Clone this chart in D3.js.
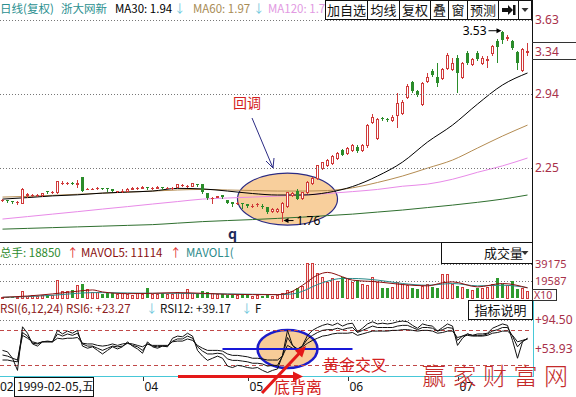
<!DOCTYPE html>
<html><head><meta charset="utf-8">
<script src="https://cdn.jsdelivr.net/npm/d3@7/dist/d3.min.js"></script>
<style>
body{margin:0;background:#fff;}
svg{display:block;font-family:"Noto Sans CJK SC","Noto Sans",sans-serif;}
</style></head><body>
<svg id="c" width="576" height="397"></svg>
<script>
// ---------- DATA ----------
const opens = [1.95,1.95,1.94,1.93,1.92,2.00,2.00,2.00,2.00,2.04,
2.03,2.03,2.11,2.11,2.11,2.10,2.17,2.05,2.05,2.06,
2.06,2.06,2.05,2.04,2.04,2.04,2.05,2.06,2.06,2.07,
2.06,2.06,2.07,2.06,2.06,2.07,2.09,2.08,2.08,2.10,
2.10,2.02,1.97,1.98,2.00,1.95,1.93,1.92,1.92,1.91,
1.90,1.91,1.90,1.89,1.85,1.85,1.84,1.90,2.00,2.04,
1.97,2.03,2.11,2.16,2.25,2.28,2.30,2.34,2.42,2.39,
2.42,2.45,2.42,2.46,2.68,2.53,2.72,2.71,2.70,2.74,
2.76,2.91,3.05,2.97,2.85,3.06,3.15,3.10,3.09,3.18,
3.17,3.28,3.10,3.32,3.22,3.32,3.23,3.26,3.32,3.43,
3.52,3.46,3.43,3.33,3.16,3.33];
const highs = [1.96,1.95,1.94,1.94,2.06,2.02,2.01,2.01,2.02,2.04,
2.04,2.13,2.13,2.12,2.12,2.14,2.17,2.06,2.06,2.07,
2.06,2.06,2.05,2.04,2.05,2.06,2.07,2.07,2.08,2.07,
2.07,2.08,2.07,2.07,2.07,2.10,2.10,2.09,2.11,2.10,
2.10,2.02,1.98,1.99,2.00,1.95,1.93,1.93,1.92,1.91,
1.91,1.92,1.91,1.89,1.88,1.88,1.93,2.03,2.03,2.05,
2.03,2.13,2.17,2.28,2.31,2.33,2.37,2.40,2.43,2.45,
2.47,2.46,2.47,2.66,2.75,2.72,2.73,2.72,2.74,2.95,
2.88,3.03,3.06,2.98,3.05,3.14,3.17,3.23,3.18,3.32,
3.28,3.30,3.24,3.34,3.28,3.34,3.29,3.29,3.40,3.45,
3.53,3.49,3.44,3.34,3.37,3.42];
const lows = [1.94,1.93,1.92,1.91,1.92,1.98,1.99,1.99,1.99,2.02,
2.02,2.02,2.10,2.10,2.10,2.07,2.04,2.05,2.05,2.05,
2.05,2.04,2.04,2.03,2.03,2.04,2.05,2.05,2.06,2.05,
2.05,2.06,2.05,2.06,2.05,2.07,2.08,2.07,2.08,2.08,
2.02,1.96,1.92,1.98,1.97,1.92,1.90,1.91,1.88,1.89,
1.89,1.90,1.88,1.83,1.84,1.84,1.76,1.89,1.99,1.96,
1.96,2.02,2.10,2.15,2.24,2.27,2.29,2.33,2.37,2.38,
2.41,2.40,2.41,2.45,2.67,2.52,2.70,2.69,2.69,2.63,
2.75,2.90,2.96,2.92,2.84,3.05,3.11,3.01,3.08,3.17,
3.16,2.96,3.09,3.22,3.21,3.26,3.22,3.19,3.30,3.24,
3.42,3.44,3.36,3.17,3.15,3.30];
const closes = [1.95,1.94,1.93,1.93,2.05,2.01,2.00,2.00,2.02,2.03,
2.03,2.13,2.11,2.11,2.10,2.11,2.04,2.05,2.05,2.06,
2.05,2.05,2.04,2.04,2.04,2.05,2.06,2.06,2.07,2.06,
2.06,2.07,2.06,2.06,2.06,2.10,2.09,2.08,2.11,2.09,
2.03,1.97,1.97,1.99,1.98,1.92,1.91,1.92,1.91,1.90,
1.90,1.91,1.89,1.84,1.87,1.87,1.92,2.03,2.02,1.96,
2.03,2.12,2.16,2.28,2.31,2.32,2.36,2.39,2.37,2.44,
2.46,2.41,2.46,2.65,2.73,2.71,2.71,2.70,2.73,2.86,
2.87,3.01,2.97,2.93,3.04,3.10,3.12,3.04,3.17,3.30,
3.23,3.14,3.23,3.23,3.27,3.27,3.28,3.27,3.39,3.38,
3.44,3.47,3.37,3.23,3.36,3.34];
const volumes = [1200,1000,1300,1500,7800,2500,3000,2800,3500,3000,
3200,20600,7500,8000,9000,14700,16700,10900,7000,6500,
5000,6000,5500,4500,6000,5000,4000,5500,5000,11600,
5000,4500,6000,5000,4500,6500,5500,10900,6000,5000,
7800,6500,5500,4500,5000,4000,3500,3000,3800,3200,
2800,3000,2500,3500,2600,3000,5500,9000,8000,11000,
14000,40500,40000,28300,24400,18600,22500,19400,24400,23300,
18600,20600,16000,14700,24400,18600,12000,11000,13000,19000,
16500,15000,11000,10000,13500,16000,13000,11500,27200,27200,
16000,14000,13000,10000,9000,12000,11000,12500,16000,23300,
16700,15500,19400,10000,12000,8500];
// moving averages at every 5th session
const maIdx = [0,5,10,15,20,25,30,35,40,45,50,55,60,65,70,75,80,85,90,95,100,105];
const ma30  = [1.96,1.974,1.99,2.00,2.016,2.026,2.035,2.06,2.055,2.035,2.012,1.998,1.998,2.021,2.077,2.175,2.305,2.492,2.65,2.846,3.024,3.136];
const ma60  = [1.979,1.985,1.995,2.005,2.015,2.025,2.035,2.045,2.05,2.045,2.04,2.035,2.035,2.04,2.065,2.115,2.175,2.249,2.324,2.436,2.548,2.65];
const ma120 = [1.774,1.797,1.82,1.843,1.867,1.89,1.914,1.937,1.96,1.97,1.979,1.988,1.998,2.012,2.03,2.05,2.08,2.10,2.145,2.21,2.27,2.343];
const ma250 = [1.68,1.687,1.694,1.701,1.708,1.715,1.722,1.736,1.75,1.76,1.769,1.78,1.792,1.806,1.82,1.839,1.858,1.881,1.904,1.93,1.96,1.998];
const vmaIdx = [0,5,10,15,18,20,25,30,35,40,45,50,55,58,60,63,65,68,70,75,80,85,88,90,95,100,105];
const mavol5  = [800,2300,4700,7800,9300,7000,5000,5400,6200,5400,4300,3900,3900,7800,14700,26400,29500,24400,20600,18600,15500,14000,17500,18600,12800,16700,11600];
const mavol10 = [800,1600,3100,5400,6200,6200,5800,5400,5400,5000,4700,4300,3900,4700,7800,15500,19400,22500,22500,20600,16700,14700,16000,16700,14000,14700,12000];
const rsi6 = [52,50,41,24,85,76,61,58,64,65,
64,80,75,79,76,80,58,55,57,52,
47,52,57,54,57,64,58,54,48,64,
57,55,58,57,69,72,71,76,72,52,
44,38,41,44,41,30,28,31,30,28,
27,28,24,21,24,26,45,80,59,52,
59,73,80,84,87,89,87,90,86,89,
90,78,83,89,92,89,90,89,90,92,
93,92,87,83,89,87,86,79,84,89,
86,59,69,75,73,75,75,76,83,86,
89,87,66,41,64,69];
const rsi12 = [45.5,44,41,38.5,77,72,62,61,64,64,
64,75,72,75,73,76,61,58,58,55,
52,55,58,57,58,62,59,57,52,61,
58,57,58,58,65,68,68,72,69,57,
51,47,47,48,47,40,38,38,37,36,
34,34,33,30,31,31,44,70,59,54,
58,68,73,77,80,81,81,83,81,83,
84,77,80,83,86,84,84,84,84,86,
87,87,84,81,84,84,83,79,81,84,
83,66,72,75,73,73,73,75,79,81,
84,84,72,57,65,68];
const rsi24 = [38.5,38.5,37,36,73,69,64,62,64,64,
64,69,68,69,69,70,62,61,61,59,
58,59,61,59,61,62,61,59,57,61,
59,59,59,59,64,65,65,68,66,59,
55,52,52,52,51,47,45,45,44,43,
41,41,40,38.5,38.5,38.5,44,59,55,54,
57,62,66,69,72,73,75,76,76,76,
77,73,75,77,79,79,79,79,80,80,
81,81,80,79,80,80,79,76,77,79,
79,70,72,73,72,72,72,73,76,77,
79,79,73,64,66,68];
const priceTicks = [3.63, 2.94, 2.25];
const volTicks = [39175, 19587];
const rsiTicks = [94.50, 53.93];
const rsiLevels = [81, 31];
const monthLabels = ["02","04","05","06","07"];
const monthIdx = [0,28,49,69,91];
const buttons = ["加自选","均线","复权","叠","窗","预测"];
const buttonEdges = [325,367,399,430,448,467,498,518,532];

// ---------- SETUP ----------
const N = closes.length;
const svg = d3.select("#c");
const RED = "#d03a3a", GREEN = "#2a8c2a", AXC = "#a8304a";
const xB = d3.scaleBand().domain(d3.range(N)).range([0,530]).paddingInner(0.4).paddingOuter(0.2);
const bw = xB.bandwidth();
const xc = i => xB(i) + bw/2;
const yP = d3.scaleLinear().domain([2.25,3.63]).range([168,20]);
const yV = d3.scaleLinear().domain([0,39175]).range([298,264]);
const yR = d3.scaleLinear().domain([53.93,94.5]).range([349,320]);
const crisp = v => Math.round(v)+0.5;

// ---------- FRAMES ----------
const g = svg.append("g");
function hline(y,x1,x2,stroke,dash,w){ g.append("line").attr("x1",x1).attr("x2",x2).attr("y1",y).attr("y2",y)
  .attr("stroke",stroke).attr("stroke-width",w||1).attr("stroke-dasharray",dash||null); }
function vline(x,y1,y2,stroke,w){ g.append("line").attr("x1",x).attr("x2",x).attr("y1",y1).attr("y2",y2).attr("stroke",stroke).attr("stroke-width",w||1); }

priceTicks.forEach(v=>hline(crisp(yP(v)),0,532,"#777","1,2"));
volTicks.forEach(v=>hline(crisp(yV(v)),0,532,"#777","1,2"));
hline(crisp(yR(94.5)),0,532,"#777","1,2");
rsiLevels.forEach(v=>hline(crisp(yR(v)),0,532,"#c04848","4,3"));
hline(242.5,0,532,"#222");
vline(532.5,0,300,"#111");
hline(376.5,0,534,"#48c8d8");
vline(533.5,300,377,"#48c8d8");

// ---------- ANNOTATION UNDERLAYS ----------
const ann = svg.append("g");
ann.append("ellipse").attr("cx",xc(57)).attr("cy",yP(1.96)).attr("rx",50).attr("ry",26)
  .attr("fill","#f8cf9c").attr("stroke","#2c2c84").attr("stroke-width",1.2);
ann.append("ellipse").attr("cx",xc(57)).attr("cy",yR(53.93)).attr("rx",30).attr("ry",19)
  .attr("fill","#f8cc98").attr("stroke","#1c1cc8").attr("stroke-width",2.5);

// ---------- PRICE PANEL ----------
const pg = svg.append("g");
const lineMA = (arr) => d3.line().x((d,k)=>xc(maIdx[k])).y(d=>yP(d)).curve(d3.curveMonotoneX)(arr);
[[ma250,"#2f6f2f"],[ma120,"#e88ae8"],[ma60,"#b48c52"],[ma30,"#000"]].forEach(([a,c])=>{
  pg.append("path").attr("d",lineMA(a)).attr("fill","none").attr("stroke",c).attr("stroke-width",1);
});
const candles = d3.range(N).map(i=>({i,o:opens[i],h:highs[i],l:lows[i],c:closes[i]}));
const cg = pg.selectAll("g.k").data(candles).join("g");
cg.append("line").attr("x1",d=>xc(d.i)).attr("x2",d=>xc(d.i))
  .attr("y1",d=>Math.round(yP(d.h))).attr("y2",d=>Math.round(yP(d.l))+1)
  .attr("stroke",d=>d.c>=d.o?RED:GREEN);
cg.each(function(d){
  const s = d3.select(this);
  const t = Math.round(yP(Math.max(d.o,d.c))), b = Math.round(yP(Math.min(d.o,d.c)));
  if (d.c>=d.o){
    if (b-t<1){ s.append("line").attr("x1",xB(d.i)).attr("x2",xB(d.i)+bw).attr("y1",t+0.5).attr("y2",t+0.5).attr("stroke",RED); }
    else s.append("rect").attr("x",xB(d.i)+0.5).attr("y",t+0.5).attr("width",bw-1).attr("height",b-t)
      .attr("fill","#fff").attr("stroke",RED);
  } else {
    s.append("rect").attr("x",xB(d.i)).attr("y",t).attr("width",bw).attr("height",Math.max(b-t,1)).attr("fill",GREEN);
  }
});

// price axis
const pAxis = svg.append("g").attr("transform","translate(532,0)")
  .call(d3.axisRight(yP).tickValues(priceTicks).tickSize(0).tickPadding(3).tickFormat(d3.format(".2f")));
pAxis.select(".domain").remove();
pAxis.selectAll("text").attr("fill",AXC).attr("font-size",12).attr("font-family","'Noto Sans',sans-serif");
// last close marker
const lc = closes[N-1];
hline(Math.round(yP(lc))-8.5,532,576,"#333"); hline(Math.round(yP(lc))+8.5,532,576,"#333");
svg.append("text").attr("x",535).attr("y",yP(lc)+4.5).attr("fill",AXC).attr("font-size",12)
  .attr("font-family","'Noto Sans',sans-serif").text(d3.format(".2f")(lc));

// ---------- HEADER ----------
const hd = svg.append("text").attr("y",13).attr("font-size",11.5);
hd.append("tspan").attr("x",0).attr("fill","#2b9090").text("日线(复权)");
hd.append("tspan").attr("x",61).attr("fill","#2b9090").text("浙大网新");
hd.append("tspan").attr("x",115).attr("fill","#000").text("MA30: "+d3.format(".2f")(ma30[0]-0.02));
hd.append("tspan").attr("x",174).attr("fill","#6cc8dc").text("↓");
hd.append("tspan").attr("x",193).attr("fill","#a88c55").text("MA60: "+d3.format(".2f")(ma60[0]-0.01));
hd.append("tspan").attr("x",253).attr("fill","#6cc8dc").text("↓");
hd.append("tspan").attr("x",268).attr("fill","#e29ae2").text("MA120: 1.7");
// buttons
const bt = svg.append("g");
bt.append("rect").attr("x",325.5).attr("y",0.5).attr("width",206).attr("height",19).attr("fill","#fff").attr("stroke","#111");
buttonEdges.slice(1,-1).forEach(x=>vline(x+0.5,0,20,"#111"));
g.raise();
buttons.forEach((b,k)=>{
  bt.append("text").attr("x",(buttonEdges[k]+buttonEdges[k+1])/2+0.5).attr("y",14.5).attr("text-anchor","middle")
    .attr("font-size",13).attr("fill","#111").text(b);
});
bt.append("path").attr("d","M502,8 H508 V5 L513,10 L508,15 V12 H502 Z").attr("fill","#111");
bt.append("rect").attr("x",513).attr("y",5).attr("width",2.5).attr("height",10).attr("fill","#111");
bt.append("path").attr("d","M521.5,8 L528.5,8 L525,12 Z").attr("fill","#333");

// ---------- VOLUME PANEL ----------
const vg = svg.append("g");
const vols = d3.range(N).map(i=>({i,v:volumes[i],up:closes[i]>=opens[i]}));
vg.selectAll("rect").data(vols).join("rect")
  .attr("x",d=>d.up?xB(d.i)+0.5:xB(d.i)).attr("width",d=>d.up?bw-1:bw)
  .attr("y",d=>Math.round(yV(d.v))+(d.up?0.5:0)).attr("height",d=>298-Math.round(yV(d.v)))
  .attr("fill",d=>d.up?"#fde4e4":"#2e9a2e").attr("stroke",d=>d.up?RED:"none");
const lineV = (arr) => d3.line().x((d,k)=>xc(vmaIdx[k])).y(d=>yV(d)).curve(d3.curveMonotoneX)(arr);
vg.append("path").attr("d",lineV(mavol10)).attr("fill","none").attr("stroke","#2a8a8a");
vg.append("path").attr("d",lineV(mavol5)).attr("fill","none").attr("stroke","#8a1010");
const vAxis = svg.append("g").attr("transform","translate(532,0)")
  .call(d3.axisRight(yV).tickValues(volTicks).tickSize(0).tickPadding(3).tickFormat(d3.format("d")));
vAxis.select(".domain").remove();
vAxis.selectAll("text").attr("fill",AXC).attr("font-size",11).attr("font-family","'Noto Sans',sans-serif");
svg.append("rect").attr("x",532.5).attr("y",289.5).attr("width",24).attr("height",11).attr("fill","#fff").attr("stroke","#333");
svg.append("text").attr("x",534).attr("y",299).attr("font-size",10.5).attr("fill",AXC).attr("font-family","'Noto Sans',sans-serif").text("X10");
const vh = svg.append("text").attr("y",257).attr("font-size",11.5);
vh.append("tspan").attr("x",0).attr("fill","#2e8b2e").text("总手: 18850");
vh.append("tspan").attr("x",67).attr("fill","#e03030").text("↑");
vh.append("tspan").attr("x",81).attr("fill","#8a1010").text("MAVOL5: 11114");
vh.append("tspan").attr("x",170).attr("fill","#e03030").text("↑");
vh.append("tspan").attr("x",186).attr("fill","#2a8a8a").text("MAVOL1(");
svg.append("rect").attr("x",441.5).attr("y",242.5).attr("width",91).attr("height",21).attr("fill","#fff").attr("stroke","#111");
svg.append("text").attr("x",484).attr("y",258).attr("font-size",13).attr("fill","#111").text("成交量");
svg.append("path").attr("d","M521.5,251 L528.5,251 L525,255 Z").attr("fill","#333");

// ---------- RSI PANEL ----------
const rg = svg.append("g");
const lineR = d3.line().x((d,k)=>xc(k)).y(d=>yR(d));
[rsi24,rsi12,rsi6].forEach(a=>rg.append("path").attr("d",lineR(a)).attr("fill","none").attr("stroke","#111"));
const rAxis = svg.append("g").attr("transform","translate(533,0)")
  .call(d3.axisRight(yR).tickValues(rsiTicks).tickSize(0).tickPadding(2).tickFormat(d=>"+"+d3.format(".2f")(d)));
rAxis.select(".domain").remove();
rAxis.selectAll("text").attr("fill",AXC).attr("font-size",12).attr("font-family","'Noto Sans',sans-serif");
const rh = svg.append("text").attr("y",313).attr("font-size",11.5);
rh.append("tspan").attr("x",0).attr("fill","#8e2020").text("RSI(6,12,24)  RSI6: +"+d3.format(".2f")(23.27));
rh.append("tspan").attr("x",146).attr("fill","#6cc8dc").text("↓");
rh.append("tspan").attr("x",160).attr("fill","#111").text("RSI12: +39.17");
rh.append("tspan").attr("x",241).attr("fill","#6cc8dc").text("↓");
rh.append("tspan").attr("x",255).attr("fill","#111").text("F");
svg.append("rect").attr("x",468.5).attr("y",300.5).attr("width",64).attr("height",19).attr("fill","#fff").attr("stroke","#111");
svg.append("text").attr("x",500.5).attr("y",315).attr("text-anchor","middle").attr("font-size",13).attr("fill","#111").text("指标说明");

// ---------- X AXIS ----------
monthLabels.forEach((m,k)=>{
  const x = k===0 ? 0 : xc(monthIdx[k]);
  if (k>0) vline(Math.round(x)+0.5,377,381,"#333");
  svg.append("text").attr("x",k===0?0:x+2).attr("y",391).attr("font-size",12).attr("fill","#111")
    .attr("font-family","'Noto Sans',sans-serif").text(m);
});
svg.append("rect").attr("x",14.5).attr("y",377.5).attr("width",79).attr("height",19).attr("fill","#fff").attr("stroke","#111");
svg.append("text").attr("x",17).attr("y",391).attr("font-size",12).attr("fill","#111").text("1999-02-05,五");

// ---------- ANNOTATIONS ----------
const an = svg.append("g");
function arrowHead(x1,y1,x2,y2,len,half,color){
  const a = Math.atan2(y2-y1,x2-x1);
  const bx = x2 - len*Math.cos(a), by = y2 - len*Math.sin(a);
  const px = -Math.sin(a)*half, py = Math.cos(a)*half;
  an.append("path").attr("d",`M${x2},${y2} L${bx+px},${by+py} L${bx-px},${by-py} Z`).attr("fill",color);
}
function arrow(x1,y1,x2,y2,w,len,half,color){
  const a = Math.atan2(y2-y1,x2-x1);
  an.append("line").attr("x1",x1).attr("y1",y1).attr("x2",x2-len*0.8*Math.cos(a)).attr("y2",y2-len*0.8*Math.sin(a))
    .attr("stroke",color).attr("stroke-width",w);
  arrowHead(x1,y1,x2,y2,len,half,color);
}
// 回调
an.append("text").attr("x",233).attr("y",108).attr("font-size",14).attr("fill","#d42020").text("回调");
an.append("line").attr("x1",252).attr("y1",118).attr("x2",273).attr("y2",168).attr("stroke","#2c2c84");
an.append("path").attr("d","M266,161 L273,168 L274,158").attr("fill","none").attr("stroke","#2c2c84");
an.append("text").attr("x",228).attr("y",239).attr("font-size",14).attr("font-weight","bold").attr("fill","#1c2a5a").text("q");
// high / low labels
const hx = xc(100), hy = yP(highs[100]);
arrow(hx-14,hy,hx-1,hy,1,5,2.5,"#000");
an.append("text").attr("x",hx-16).attr("y",hy+4.5).attr("text-anchor","end").attr("font-size",12).attr("fill","#000")
  .attr("font-family","'Noto Sans',sans-serif").text(d3.format(".2f")(highs[100]));
const lx = xc(56), ly = yP(lows[56]);
arrow(lx+11,ly,lx+1,ly,1,5,2.5,"#000");
an.append("text").attr("x",lx+14).attr("y",ly+4.5).attr("font-size",12).attr("fill","#000")
  .attr("font-family","'Noto Sans',sans-serif").text(d3.format(".2f")(lows[56]));
// RSI annotations
an.append("line").attr("x1",xc(44)).attr("x2",xc(70)).attr("y1",yR(53.93)).attr("y2",yR(53.93)).attr("stroke","#1818d8").attr("stroke-width",2);
arrow(178,376.5,303,376.5,3,10,5,"#e41818");
arrow(262,393,306,346,3,11,5,"#e41818");
an.append("text").attr("x",323).attr("y",371).attr("font-size",16).attr("fill","#d42020").text("黄金交叉");
an.append("text").attr("x",274).attr("y",393).attr("font-size",16).attr("fill","#d42020").text("底背离");
an.append("text").attr("x",422).attr("y",385).attr("font-size",24).attr("font-weight",300).attr("letter-spacing",6.5)
  .attr("fill","#c42a2a").text("赢家财富网");
</script>
</body></html>
